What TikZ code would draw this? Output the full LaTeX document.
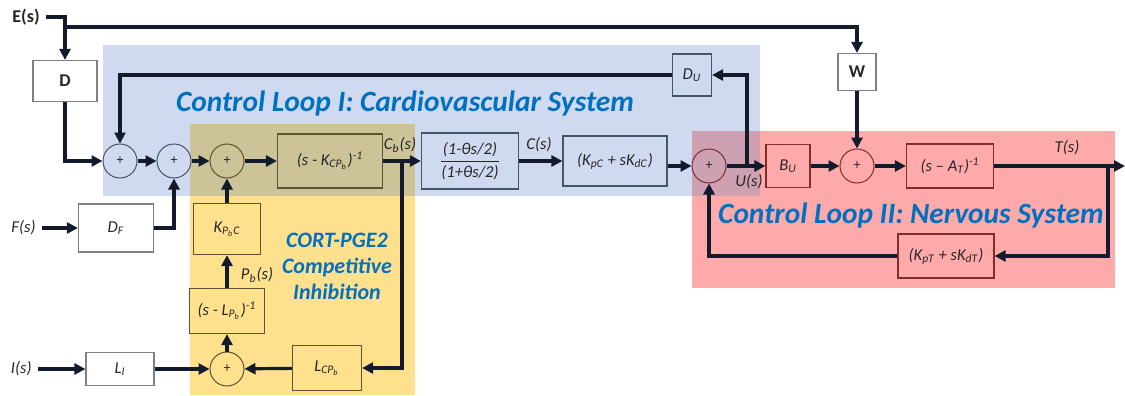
\documentclass[tikz,border=0pt]{standalone}
\usepackage{fontspec}
\setmainfont{Carlito}
\usepackage{amsmath}
\usetikzlibrary{arrows.meta}

\definecolor{bgblue}{RGB}{207,218,240}
\definecolor{bgyellow}{RGB}{255,224,140}
\definecolor{bgred}{RGB}{255,170,170}
\definecolor{bgolive}{RGB}{204,196,152}
\definecolor{bgmauve}{RGB}{205,160,178}
\definecolor{wirec}{RGB}{18,26,44}
\definecolor{edgeblue}{RGB}{68,84,106}
\definecolor{edgeyellow}{RGB}{95,82,48}
\definecolor{edgered}{RGB}{125,45,45}
\definecolor{edgegrey}{RGB}{128,128,128}
\definecolor{titleblue}{RGB}{0,112,192}
\definecolor{labelc}{RGB}{38,38,38}

\begin{document}
\begin{tikzpicture}[x=0.5pt, y=-0.5pt,
    font=\fontsize{8.3}{9.8}\selectfont\itshape, text=labelc,
    wire/.style={line width=1.6pt, draw=wirec, -{Triangle[length=5.5pt,width=5.5pt]}},
    blk/.style={draw, line width=0.6pt, inner sep=1pt},
    inbox/.style={blk, draw=edgegrey, fill=white},
    cvbox/.style={blk, draw=edgeblue},
    ylbox/.style={blk, draw=edgeyellow},
    rdbox/.style={blk, draw=edgered},
    sumnode/.style={circle, draw, line width=0.5pt, minimum size=17pt, inner sep=0pt,
        font=\fontsize{7}{7}\selectfont\upshape},
    loopname/.style={text=titleblue, font=\fontsize{14.7}{16}\selectfont\bfseries\itshape},
    boldname/.style={font=\fontsize{9}{10}\selectfont\bfseries\upshape}]

    \useasboundingbox (0, 0) rectangle (1125, 396);

    \fill[bgblue] (103, 45) rectangle (760, 196);
    \fill[bgyellow] (190, 124) rectangle (415, 395);
    \fill[bgred] (692, 131) rectangle (1115, 288);
    \fill[bgolive] (190, 124) rectangle (415, 196);
    \fill[bgmauve] (692, 131) rectangle (760, 196);

    \node[loopname] at (405, 103) (titleI) {Control Loop I: Cardiovascular System};
    \node[loopname] at (911, 215) (titleII) {Control Loop II: Nervous System};
    \node[loopname, align=center, font=\fontsize{11}{13}\selectfont\bfseries\itshape]
        at (337, 266) (titleC) {CORT-PGE2\\Competitive\\Inhibition};

    \node[boldname, anchor=east, inner sep=3pt] at (46, 17) (Es) {E(s)};
    \node[anchor=east, inner sep=3pt] at (42, 228) (Fs) {F(s)};
    \node[anchor=east, inner sep=3pt] at (38, 369) (Is) {I(s)};

    \node[inbox, boldname, minimum width=32pt, minimum height=20.5pt] at (65, 81) (D) {D};
    \node[inbox, boldname, minimum width=19pt, minimum height=18.5pt] at (857, 72) (W) {W};
    \node[inbox, minimum width=37.5pt, minimum height=24pt] at (116, 228) (DF) {D\textsubscript{F}};
    \node[inbox, minimum width=34pt, minimum height=16.5pt] at (120, 369) (LI) {L\textsubscript{I}};

    \node[sumnode, draw=edgeblue] at (120, 161) (s1) {+};
    \node[sumnode, draw=edgeblue] at (174, 161) (s2) {+};
    \node[sumnode, draw=edgeyellow] at (227, 161) (s3) {+};
    \node[cvbox, draw=edgeyellow, minimum width=52.5pt, minimum height=27pt] at (330, 161) (KCP)
        {(s - K\textsubscript{CP\textsubscript{b}})\textsuperscript{-1}};
    \node[cvbox, minimum width=48.5pt, minimum height=28pt] at (470, 161) (Pade)
        {$\dfrac{\text{(1-θs/2)}}{\text{(1+θs/2)}}$};
    \node[cvbox, minimum width=52pt, minimum height=25pt] at (615, 161) (KpC)
        {(K\textsubscript{pC} + sK\textsubscript{dC})};
    \node[cvbox, minimum width=19.5pt, minimum height=21pt] at (692, 75) (DU) {D\textsubscript{U}};
    \node[sumnode, draw=edgered] at (709, 166) (s4) {+};
    \node[rdbox, minimum width=22pt, minimum height=21.5pt] at (788, 166) (BU) {B\textsubscript{U}};
    \node[sumnode, draw=edgered] at (857, 166) (s5) {+};
    \node[rdbox, minimum width=43.5pt, minimum height=22pt] at (950, 166) (AT)
        {(s – A\textsubscript{T})\textsuperscript{-1}};
    \node[rdbox, minimum width=48pt, minimum height=22pt] at (946, 256) (KpT)
        {(K\textsubscript{pT} + sK\textsubscript{dT})};

    \node[ylbox, minimum width=33.5pt, minimum height=25.5pt] at (227, 229) (KPC)
        {K\textsubscript{P\textsubscript{b}C}};
    \node[ylbox, minimum width=37.5pt, minimum height=22.5pt] at (227, 311) (LPb)
        {(s - L\textsubscript{P\textsubscript{b}})\textsuperscript{-1}};
    \node[sumnode, draw=edgeyellow] at (227, 369) (s6) {+};
    \node[ylbox, minimum width=34.5pt, minimum height=22.5pt] at (327, 368) (LCP)
        {L\textsubscript{CP\textsubscript{b}}};

    \node at (400, 145) (Cb) {C\textsubscript{b}(s)};
    \node at (539, 145) (Cs) {C(s)};
    \node at (749, 182) (Us) {U(s)};
    \node at (257, 275) (Pb) {P\textsubscript{b}(s)};
    \node at (1067, 148) (Ts) {T(s)};

    \coordinate (Ebr) at (65, 27);
    \coordinate (Cbr) at (402, 161);
    \coordinate (Ubr) at (747, 166);
    \coordinate (Tbr) at (1108, 166);
    \coordinate (Tout) at (1125, 166);

    \draw[wire] (Es.east) -| (D.north);
    \draw[wire] (Ebr) -| (W.north);
    \draw[wire] (D.south) |- (s1.west);
    \draw[wire] (s1) -- (s2);
    \draw[wire] (s2) -- (s3);
    \draw[wire] (s3) -- (KCP);
    \draw[wire] (KCP) -- (Pade);
    \draw[wire] (Pade) -- (KpC);
    \draw[wire] (KpC.east |- s4.west) -- (s4.west);
    \draw[wire] (s4) -- (BU);
    \draw[wire] (BU) -- (s5);
    \draw[wire] (s5) -- (AT);
    \draw[wire] (AT) -- (Tout);
    \draw[wire] (W.south) -- (s5.north);
    \draw[wire] (Ubr) |- (DU.east);
    \draw[wire] (DU.west) -| (s1.north);
    \draw[wire] (Tbr) |- (KpT.east);
    \draw[wire] (KpT.west) -| (s4.south);

    \draw[wire] (Fs.east) -- (DF.west);
    \draw[wire] (DF.east) -| (s2.south);
    \draw[wire] (KPC) -- (s3);
    \draw[wire] (LPb) -- (KPC);
    \draw[wire] (s6) -- (LPb);
    \draw[wire] (Is.east) -- (LI.west);
    \draw[wire] (LI) -- (s6);
    \draw[wire] (Cbr) |- (LCP.east);
    \draw[wire] (LCP) -- (s6);
\end{tikzpicture}
\end{document}
